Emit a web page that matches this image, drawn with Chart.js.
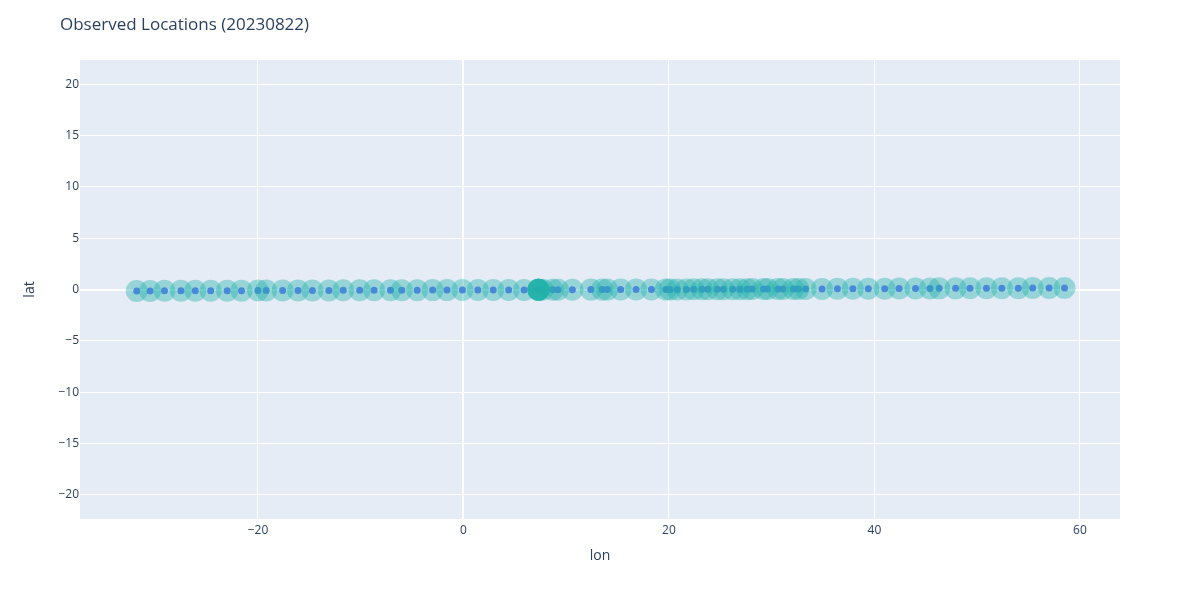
<!DOCTYPE html>
<html lang="en">
<head>
  <meta charset="UTF-8" />
  <title>Observed Locations</title>
  <script src="https://cdn.jsdelivr.net/npm/chart.js"></script>
  <style>
    body { margin: 0; background: #fff; }
    canvas { display: block; }
  </style>
</head>
<body>
  <canvas id="mapChart" width="1200" height="600"></canvas>

  <script>
    const chartTitle = 'Observed Locations (20230822)';
    const xTitle = 'lon';
    const yTitle = 'lat';

    const lonValues = [
      -31.8, -30.5, -29.1, -27.5, -26.1, -24.6, -23.0, -21.6, -20.0, -19.2,
      -17.6, -16.1, -14.7, -13.1, -11.7, -10.1, -8.7, -7.1, -6.0, -4.5,
      -3.0, -1.6, -0.1, 1.4, 2.9, 4.4, 5.9, 7.3, 7.7, 8.7,
      9.2, 10.6, 12.4, 13.5, 14.0, 15.3, 16.8, 18.3, 19.7, 20.1,
      20.8, 21.7, 22.4, 23.2, 23.8, 24.7, 25.3, 26.2, 26.9, 27.6,
      28.1, 29.2, 29.6, 30.6, 31.1, 32.1, 32.6, 33.3, 34.9, 36.4,
      37.9, 39.4, 41.0, 42.4, 44.0, 45.4, 46.3, 47.9, 49.3, 50.9,
      52.4, 54.0, 55.4, 57.0, 58.5
    ];
    const latValues = [
      -0.14, -0.14, -0.13, -0.13, -0.12, -0.12, -0.11, -0.11, -0.10, -0.10,
      -0.10, -0.09, -0.09, -0.09, -0.08, -0.08, -0.08, -0.07, -0.07, -0.07,
      -0.06, -0.06, -0.05, -0.05, -0.05, -0.04, -0.04, -0.03, -0.03, -0.03,
      -0.02, -0.02, -0.01, -0.01, -0.01, 0.00, 0.00, 0.00, 0.01, 0.01,
      0.01, 0.01, 0.02, 0.02, 0.02, 0.02, 0.03, 0.03, 0.03, 0.03,
      0.04, 0.04, 0.04, 0.04, 0.05, 0.05, 0.05, 0.05, 0.06, 0.07,
      0.07, 0.08, 0.08, 0.09, 0.09, 0.10, 0.11, 0.11, 0.12, 0.12,
      0.13, 0.13, 0.14, 0.14, 0.15
    ];
    // location observed several times (darker circle)
    const repeatLon = [7.3, 7.3, 7.3, 7.3, 7.3];
    const repeatLat = [-0.03, -0.03, -0.03, -0.03, -0.03];

    const xTicks = [-20, 0, 20, 40, 60];
    const yTicks = [-20, -15, -10, -5, 0, 5, 10, 15, 20];

    const toPoints = (xs, ys) => xs.map((x, i) => ({ x: x, y: ys[i] }));

    const fontFamily = '"Open Sans", "Noto Sans", sans-serif';
    const textColor = '#2a3f5f';

    const plotlyLook = {
      id: 'plotlyLook',
      beforeDraw(chart) {
        const { ctx, chartArea: a } = chart;
        ctx.save();
        ctx.fillStyle = '#e5ecf6';
        ctx.fillRect(a.left, a.top, a.right - a.left, a.bottom - a.top);
        ctx.restore();
      },
      afterDraw(chart) {
        const { ctx, chartArea: a } = chart;
        ctx.save();
        ctx.fillStyle = textColor;
        ctx.font = '17px ' + fontFamily;
        ctx.textBaseline = 'middle';
        ctx.textAlign = 'left';
        ctx.fillText(chartTitle, 60, 25);

        ctx.font = '14px ' + fontFamily;
        ctx.textAlign = 'center';
        ctx.fillText(xTitle, (a.left + a.right) / 2, 556);

        ctx.translate(30, (a.top + a.bottom) / 2);
        ctx.rotate(-Math.PI / 2);
        ctx.fillText(yTitle, 0, 0);
        ctx.restore();
      }
    };

    const gridWidth = ctx => ctx.tick && ctx.tick.value === 0 ? 2 : 1;

    new Chart(document.getElementById('mapChart'), {
      type: 'scatter',
      data: {
        datasets: [
          {
            label: 'track',
            data: toPoints(lonValues, latValues),
            backgroundColor: '#636efa',
            pointRadius: 3.5,
            pointHoverRadius: 3.5,
            borderWidth: 0,
            order: 2
          },
          {
            label: 'observations',
            data: toPoints(lonValues, latValues).concat(toPoints(repeatLon, repeatLat)),
            backgroundColor: 'rgba(32, 178, 170, 0.4)',
            pointRadius: 11,
            pointHoverRadius: 11,
            borderWidth: 0,
            order: 1
          }
        ]
      },
      options: {
        responsive: false,
        animation: false,
        layout: { padding: { left: 0, right: 80, top: 60, bottom: 0 } },
        plugins: {
          legend: { display: false },
          tooltip: { enabled: false }
        },
        scales: {
          x: {
            type: 'linear',
            min: -37.32,
            max: 63.9,
            afterBuildTicks: s => { s.ticks = xTicks.map(v => ({ value: v })); },
            afterFit: s => { s.height = 81; },
            border: { display: false },
            grid: { color: '#ffffff', lineWidth: gridWidth, drawTicks: false },
            ticks: {
              padding: 4,
              color: textColor,
              font: { family: fontFamily, size: 12 },
              maxRotation: 0,
              callback: v => v < 0 ? '\u2212' + Math.abs(v) : String(v)
            }
          },
          y: {
            type: 'linear',
            min: -22.35,
            max: 22.35,
            afterBuildTicks: s => { s.ticks = yTicks.map(v => ({ value: v })); },
            afterFit: s => { s.width = 80; },
            border: { display: false },
            grid: { color: '#ffffff', lineWidth: gridWidth, drawTicks: false },
            ticks: {
              padding: 1,
              color: textColor,
              font: { family: fontFamily, size: 12 },
              callback: v => v < 0 ? '\u2212' + Math.abs(v) : String(v)
            }
          }
        }
      },
      plugins: [plotlyLook]
    });
  </script>
</body>
</html>
